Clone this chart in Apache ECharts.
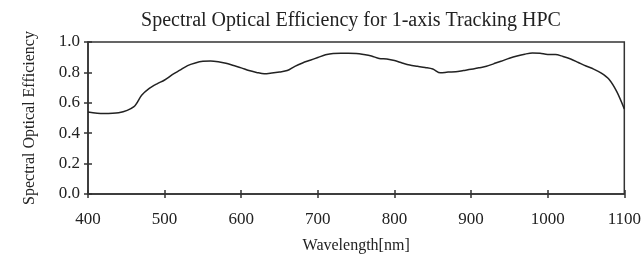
<!DOCTYPE html>
<html>
<head>
<meta charset="utf-8">
<script src="https://cdn.jsdelivr.net/npm/echarts@6/dist/echarts.min.js"></script>
<style>
  html, body { margin: 0; padding: 0; background: #fff; }
  #chart { width: 644px; height: 259px; }
</style>
</head>
<body>
<div id="chart"></div>
<script>
// data
const wavelengths = [
  400, 420, 440, 460, 470, 480, 490, 500, 510, 520, 530, 540, 550, 560, 570, 580, 590,
  600, 610, 620, 630, 640, 650, 660, 670, 680, 690, 700, 710, 720, 730, 740, 750, 760,
  770, 780, 790, 800, 810, 820, 830, 840, 850, 860, 870, 880, 890, 900, 910, 920, 930,
  940, 950, 960, 970, 980, 990, 1000, 1010, 1020, 1030, 1040, 1050, 1060, 1070, 1080,
  1090, 1100
];
const efficiency = [
  0.54, 0.53, 0.535, 0.575, 0.65, 0.695, 0.725, 0.75, 0.785, 0.815, 0.845, 0.862, 0.873,
  0.875, 0.870, 0.860, 0.845, 0.830, 0.812, 0.800, 0.791, 0.796, 0.803, 0.812, 0.840,
  0.862, 0.880, 0.898, 0.916, 0.925, 0.926, 0.926, 0.925, 0.918, 0.908, 0.892, 0.888,
  0.878, 0.862, 0.848, 0.840, 0.832, 0.822, 0.797, 0.802, 0.804, 0.812, 0.820, 0.830,
  0.840, 0.858, 0.875, 0.893, 0.908, 0.920, 0.928, 0.926, 0.918, 0.918, 0.905, 0.888,
  0.865, 0.842, 0.822, 0.795, 0.755, 0.675, 0.56
];
const xTicks = { min: 400, max: 1100, step: 100 };
const yTicks = { min: 0, max: 1.0, step: 0.2 };

const font = '"Liberation Serif", "Times New Roman", serif';
const ink = '#333';

const chart = echarts.init(document.getElementById('chart'));

const baseX = {
  type: 'value',
  min: xTicks.min,
  max: xTicks.max,
  interval: xTicks.step,
  position: 'bottom',
  splitLine: { show: false }
};
const baseY = {
  type: 'value',
  min: yTicks.min,
  max: yTicks.max,
  interval: yTicks.step,
  position: 'left',
  splitLine: { show: false }
};

option = {
  animation: false,
  title: {
    text: 'Spectral Optical Efficiency for 1-axis Tracking HPC',
    left: 346,
    top: 6,
    textAlign: 'center',
    textStyle: { fontFamily: font, fontSize: 20, fontWeight: 'normal', color: '#222' }
  },
  grid: {
    left: 88, right: 19, top: 42, bottom: 59,
    show: true, borderColor: ink, borderWidth: 1.5, backgroundColor: 'transparent'
  },
  xAxis: [
    Object.assign({}, baseX, {
      name: 'Wavelength[nm]',
      nameLocation: 'middle',
      nameGap: 44,
      nameTextStyle: { fontFamily: font, fontSize: 16, color: '#222' },
      axisLine: { show: true, lineStyle: { color: ink, width: 1.5 } },
      axisTick: { show: true, inside: false, length: 4, lineStyle: { color: ink, width: 1.5 } },
      axisLabel: {
        margin: 17, fontFamily: font, fontSize: 17, color: '#222',
        formatter: v => String(v)
      }
    }),
    Object.assign({}, baseX, {
      axisLine: { show: false },
      axisTick: { show: true, inside: true, length: 4, lineStyle: { color: ink, width: 1.5 } },
      axisLabel: { show: false }
    })
  ],
  yAxis: [
    Object.assign({}, baseY, {
      name: 'Spectral Optical Efficiency',
      nameLocation: 'middle',
      nameGap: 50,
      nameTextStyle: { fontFamily: font, fontSize: 16, color: '#222' },
      axisLine: { show: true, lineStyle: { color: ink, width: 1.5 } },
      axisTick: { show: true, inside: false, length: 4, lineStyle: { color: ink, width: 1.5 } },
      axisLabel: {
        margin: 8, fontFamily: font, fontSize: 17, color: '#222',
        formatter: v => v.toFixed(1)
      }
    }),
    Object.assign({}, baseY, {
      axisLine: { show: false },
      axisTick: { show: true, inside: true, length: 4, lineStyle: { color: ink, width: 1.5 } },
      axisLabel: { show: false }
    })
  ],
  series: [{
    type: 'line',
    data: wavelengths.map((w, i) => [w, efficiency[i]]),
    showSymbol: false,
    smooth: 0.3,
    lineStyle: { color: '#222', width: 1.5 },
    clip: true
  }]
};

chart.setOption(option);
</script>
</body>
</html>
